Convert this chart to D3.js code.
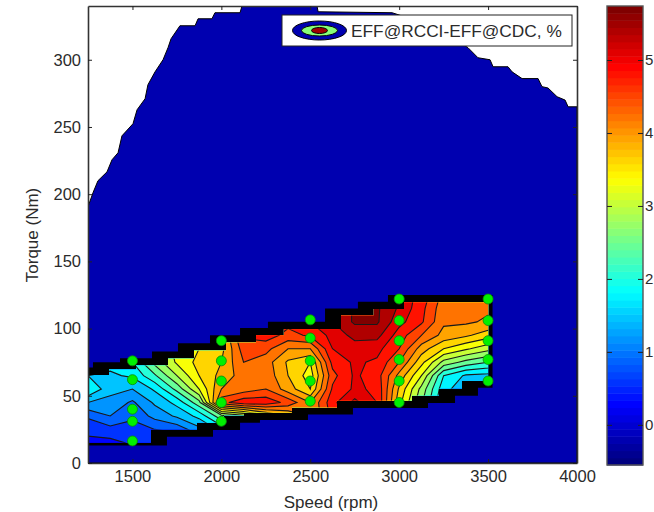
<!DOCTYPE html>
<html>
<head>
<meta charset="utf-8">
<script src="https://cdn.jsdelivr.net/npm/d3@7"></script>
<style>
  body { margin: 0; background: #fff; }
  text { font-family: "Liberation Sans", Arial, sans-serif; fill: #2b2b2b; }
</style>
</head>
<body>
<div id="chart"></div>
<script>
// values
var speeds = [1250,1375,1500,1625,1750,1875,2000,2125,2250,2375,2500,2625,2750,2875,3000,3125,3250,3375,3500];
var torques = [15,25,35,45,55,65,75,85,95,105,115,125];

var eff1250 = [0.5,0.7,0.95,1.5,2.1,1.8,1.8,1.9,1.9,1.9,2.0,2.0];
var eff1375 = [0.5,0.8,1.2,1.4,1.6,1.75,1.9,2.0,2.0,2.0,2.0,2.0];
var eff1500 = [0.65,0.8,0.95,1.15,1.5,1.85,2.1,2.3,2.3,2.3,2.3,2.3];
var eff1625 = [0.65,0.9,1.3,1.55,1.85,2.35,2.8,2.95,3.0,3.0,3.0,3.0];
var eff1750 = [0.6,1.0,1.55,1.9,2.5,3.0,3.35,3.4,3.4,3.4,3.4,3.4];
var eff1875 = [0.9,1.4,1.9,2.6,3.3,3.6,3.7,3.6,3.6,3.6,3.6,3.6];
var eff2000 = [1.3,1.9,2.6,4.7,4.2,4.0,3.9,3.8,3.85,3.9,4.0,4.0];
var eff2125 = [1.5,2.3,2.9,5.0,4.35,4.35,4.5,4.65,4.85,4.9,4.9,4.9];
var eff2250 = [2.0,3.0,3.5,5.0,4.5,4.4,4.35,4.6,4.95,5.05,5.05,5.05];
var eff2375 = [2.5,3.3,3.9,4.7,4.05,3.9,3.85,4.2,4.7,4.9,5.0,5.0];
var eff2500 = [3.0,3.8,4.2,4.2,3.6,3.45,3.6,4.2,4.85,5.1,5.2,5.2];
var eff2625 = [4.0,4.5,4.9,5.0,4.85,4.7,4.9,5.1,5.2,5.4,5.4,5.4];
var eff2750 = [4.5,5.0,5.3,5.5,5.15,5.15,5.15,5.25,5.5,5.75,5.75,5.75];
var eff2875 = [4.5,4.8,5.0,5.1,5.05,4.95,5.05,5.2,5.5,5.75,5.75,5.75];
var eff3000 = [3.0,3.3,3.5,3.7,3.85,4.1,4.5,4.8,4.95,5.2,5.35,5.3];
var eff3125 = [2.2,2.4,2.6,2.75,2.9,3.3,3.7,4.05,4.5,4.85,4.9,5.0];
var eff3250 = [1.6,1.7,1.75,1.8,1.9,2.1,2.9,3.6,4.1,4.25,4.3,4.4];
var eff3375 = [1.4,1.5,1.5,1.55,1.6,1.75,2.6,3.35,3.95,4.25,4.25,4.25];
var eff3500 = [1.4,1.5,1.5,1.6,1.65,1.7,2.4,3.1,3.75,4.15,4.25,4.25];
var effColumns = [eff1250,eff1375,eff1500,eff1625,eff1750,eff1875,eff2000,eff2125,eff2250,eff2375,eff2500,eff2625,eff2750,eff2875,eff3000,eff3125,eff3250,eff3375,eff3500];

// full load curve of the blue map (speed, torque)
var mapSpeed = [1250,1278,1306,1357,1385,1419,1441,1503,1526,1571,1587,1627,1672,1700,1717,1767,1852,1869,1947,1964,2105,2116,2538,2544,2960,3117,3258,3387,3443,3511,3528,3612,3635,3691,3781,3803,3837,3888,3933,3950,4000];
var mapTorque = [190.6,201,210,216.6,225.6,230.8,243.4,252.4,262.8,271,281.4,291,300,309,315.6,325.3,325.3,330.5,330.5,335,335,340,340,335.7,335,328.3,319.4,309,301.5,300,294.8,294.8,291,286,286,280,279,272.5,270,265,265];

// black stair band round the test area
var topSpeed = [1250,1278,1430,1610,1756,1936,2105,2262,2583,2768,2937,3525];
var topTorque = [71,75,78,83,89,95,100.5,105,115,120,125,125];
var topInnerSpeed = [1250,1368,1520,1700,1846,2026,2195,2352,2673,2858,3027,3525];
var topInnerTorque = [65.5,69.5,72.5,77.5,83.5,89.5,95,99.5,109.5,114.5,119.5,119.5];
var lowSpeed = [1250,1694,1953,2105,2217,2487,2740,3162,3314,3443,3525];
var lowTorque = [13,19.5,24.5,30,32,36,41,44.7,50,56,56];
var lowInnerSpeed = [1250,1604,1863,2015,2127,2397,2650,3072,3224,3353,3525];
var lowInnerTorque = [15,25,30,35.5,37.5,41.5,46.5,50.2,55.5,61,61];

// measured points
var ptSpeed = [1500,1500,1500,1500,1500,2000,2000,2000,2000,2000,2500,2500,2500,2500,2500,3000,3000,3000,3000,3000,3000,3500,3500,3500,3500,3500];
var ptTorque = [16.4,31,40,62,76,31,45,61,76,91,46,61,76,93,106.5,45,61,77,91,106,122,61,77,91,106,122];

var xTicks = [1500,2000,2500,3000,3500,4000];
var yTicks = [0,50,100,150,200,250,300];
var cbTicks = [0,1,2,3,4,5];
var levels = [0,0.3,0.6,0.9,1.2,1.5,1.8,2.1,2.4,2.7,3.0,3.3,3.6,3.9,4.2,4.5,4.8,5.1,5.4,5.7];
var climMin = -0.55, climMax = 5.74, mapValue = -0.25;

var w = 654, h = 512;
var svg = d3.select("#chart").append("svg").attr("width", w).attr("height", h).style("display", "block");

var x = d3.scaleLinear().domain([1250,4000]).range([88,577]);
var y = d3.scaleLinear().domain([0,340]).range([463,6]);
var cb = d3.scaleLinear().domain([climMin,climMax]).range([465,6]);

// matlab jet, 64 steps
function jet(v) {
  var f = Math.min(63, Math.floor((v - climMin) / (climMax - climMin) * 64)) / 63;
  function ch(c) { return Math.round(255 * Math.max(0, Math.min(1, 1.5 - Math.abs(4 * f - c)))); }
  return d3.rgb(ch(3), ch(2), ch(1)).formatHex();
}
function stairs(sp, tq) {
  var pts = [];
  sp.forEach(function(s, i) {
    if (i > 0) pts.push([s, tq[i-1]]);
    pts.push([s, tq[i]]);
  });
  return pts;
}
var line = d3.line().x(function(d) { return x(d[0]); }).y(function(d) { return y(d[1]); });

var defs = svg.append("defs");
defs.append("clipPath").attr("id", "plot").append("rect")
  .attr("x", x(1250)).attr("y", y(340)).attr("width", x(4000)-x(1250)).attr("height", y(0)-y(340));

// inner area where the contours show
var inner = stairs(topInnerSpeed, topInnerTorque).filter(function(d) { return d[0] < 3500; });
inner.push([3500, 119.5]);
inner.push([3500, 61]);
var lowInner = stairs(lowInnerSpeed, lowInnerTorque).filter(function(d) { return d[0] < 3500; }).reverse();
inner = inner.concat(lowInner);
defs.append("clipPath").attr("id", "inner").append("path").attr("d", line(inner) + "Z");

var plot = svg.append("g").attr("clip-path", "url(#plot)");

// blue map
var mapPts = mapSpeed.map(function(s, i) { return [s, mapTorque[i]]; });
mapPts.push([4000,0]); mapPts.push([1250,0]);
plot.append("path").attr("d", line(mapPts) + "Z")
  .attr("fill", jet(mapValue)).attr("stroke", "#000").attr("stroke-width", 1);

// black band
var band = stairs(topSpeed, topTorque).concat(stairs(lowSpeed, lowTorque).reverse());
plot.append("path").attr("d", line(band) + "Z").attr("fill", "#000");

// filled contours
var flat = [];
torques.forEach(function(t, j) {
  speeds.forEach(function(s, i) { flat.push(effColumns[i][j]); });
});
var contours = d3.contours().size([speeds.length, torques.length]).thresholds(levels)(flat);
var geo = d3.geoPath(d3.geoTransform({
  point: function(gx, gy) {
    this.stream.point(x(speeds[0] + (gx - 0.5) * 125), y(torques[0] + (gy - 0.5) * 10));
  }
}));
var cg = plot.append("g").attr("clip-path", "url(#inner)");
cg.append("path").attr("d", line(inner) + "Z").attr("fill", jet(levels[0]));
cg.selectAll("path.level")
  .data(contours)
  .enter().append("path")
  .attr("class", "level")
  .attr("d", geo)
  .attr("fill", function(d) { return jet(d.value); })
  .attr("stroke", "#1a1a1a")
  .attr("stroke-width", 1.1);

// points
svg.selectAll("circle.pt")
  .data(ptSpeed)
  .enter().append("circle")
  .attr("class", "pt")
  .attr("cx", function(d) { return x(d); })
  .attr("cy", function(d, i) { return y(ptTorque[i]); })
  .attr("r", 5)
  .attr("fill", "#00f000")
  .attr("stroke", "#0a8a0a")
  .attr("stroke-width", 0.8);

// axes, matlab box with inward ticks
function styleAxis(g, size) {
  g.selectAll("path").attr("stroke", "#333").attr("stroke-width", 1.6);
  g.selectAll("line").attr("stroke", "#222").attr("stroke-width", 1);
  g.selectAll("text").attr("font-size", size || 16.5).style("font-family", '"Liberation Sans", Arial, sans-serif').attr("fill", "#2b2b2b");
}
svg.append("g").attr("transform", "translate(0,463)")
  .call(d3.axisBottom(x).tickValues(xTicks).tickFormat(d3.format("d")).tickSizeInner(-4).tickSizeOuter(0).tickPadding(7))
  .call(styleAxis);
svg.append("g").attr("transform", "translate(0,6)")
  .call(d3.axisTop(x).tickValues(xTicks).tickFormat("").tickSizeInner(-4).tickSizeOuter(0))
  .call(styleAxis);
svg.append("g").attr("transform", "translate(88,0)")
  .call(d3.axisLeft(y).tickValues(yTicks).tickFormat(d3.format("d")).tickSizeInner(-4).tickSizeOuter(0).tickPadding(7))
  .call(styleAxis);
svg.append("g").attr("transform", "translate(577,0)")
  .call(d3.axisRight(y).tickValues(yTicks).tickFormat("").tickSizeInner(-4).tickSizeOuter(0))
  .call(styleAxis);

svg.append("text").attr("x", 331).attr("y", 508).attr("text-anchor", "middle").attr("font-size", 17).text("Speed (rpm)");
svg.append("text").attr("transform", "translate(38,235) rotate(-90)").attr("text-anchor", "middle").attr("font-size", 17).text("Torque (Nm)");

// legend
var lg = svg.append("g").attr("transform", "translate(282,15)");
lg.append("rect").attr("width", 290).attr("height", 31).attr("fill", "#fff").attr("stroke", "#222").attr("stroke-width", 1);
var legendRx = [27,18,8], legendRy = [9.5,5.5,3], legendFill = [jet(mapValue), jet(2.6), jet(5.5)];
legendRx.forEach(function(rx, i) {
  lg.append("ellipse").attr("cx", 37.5).attr("cy", 15.5).attr("rx", rx).attr("ry", legendRy[i])
    .attr("fill", legendFill[i]).attr("stroke", "#000").attr("stroke-width", 1);
});
lg.append("text").attr("x", 69).attr("y", 22).attr("font-size", 17.3).text("EFF@RCCI-EFF@CDC, %");

// colorbar
var cbStep = (climMax - climMin) / 64;
var cbVals = d3.range(64).map(function(i) { return climMin + (i + 0.5) * cbStep; });
svg.append("g").selectAll("rect")
  .data(cbVals)
  .enter().append("rect")
  .attr("x", 607).attr("width", 36)
  .attr("y", function(d) { return cb(d + cbStep / 2); })
  .attr("height", function(d) { return cb(d - cbStep / 2) - cb(d + cbStep / 2) + 0.5; })
  .attr("fill", function(d) { return jet(d); });
svg.append("rect").attr("x", 607).attr("y", 6).attr("width", 36).attr("height", 459)
  .attr("fill", "none").attr("stroke", "#555").attr("stroke-width", 1.4);
svg.append("g").attr("transform", "translate(643,0)")
  .call(d3.axisRight(cb).tickValues(cbTicks).tickFormat(d3.format("d")).tickSizeInner(-5).tickSizeOuter(0).tickPadding(2))
  .call(styleAxis, 15)
  .call(function(g) { g.select("path").remove(); });
svg.append("g").attr("transform", "translate(607,0)")
  .call(d3.axisLeft(cb).tickValues(cbTicks).tickFormat("").tickSizeInner(-5).tickSizeOuter(0))
  .call(styleAxis)
  .call(function(g) { g.select("path").remove(); });
</script>
</body>
</html>
